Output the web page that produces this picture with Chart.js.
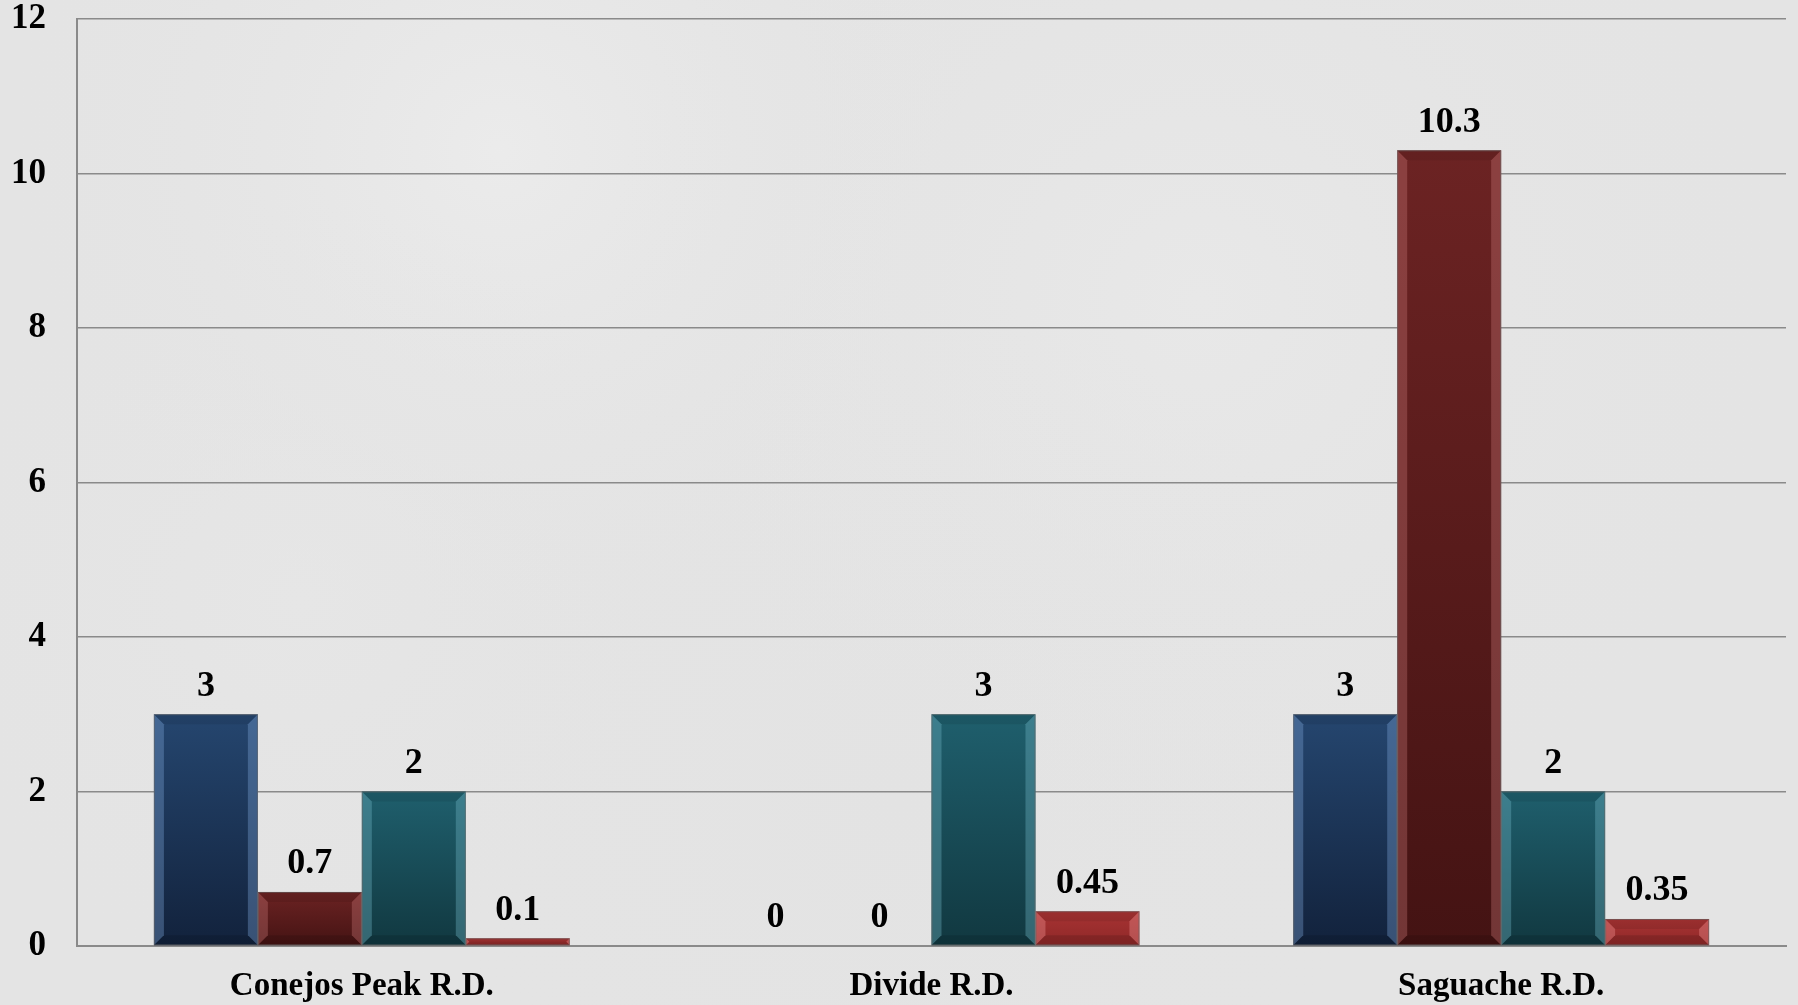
<!DOCTYPE html>
<html>
<head>
<meta charset="utf-8">
<script src="https://cdn.jsdelivr.net/npm/chart.js@4"></script>
<style>
html,body{margin:0;padding:0;background:#e4e4e4;}
#wrap{width:1798px;height:1005px;position:relative;}
</style>
</head>
<body>
<div id="wrap"><canvas id="c" width="1798" height="1005"></canvas></div>
<script>
const categories = ["Conejos Peak R.D.", "Divide R.D.", "Saguache R.D."];
const seriesA = [3, 0, 3];
const seriesB = [0.7, 0, 10.3];
const seriesC = [2, 3, 2];
const seriesD = [0.1, 0.45, 0.35];
const yTicks = [0, 2, 4, 6, 8, 10, 12];

const palettes = [
  {top:"#25466f", bottom:"#12223c", edge:"rgba(120,160,210,0.38)"},
  {top:"#6c2323", bottom:"#441313", edge:"rgba(200,120,120,0.35)"},
  {top:"#1f5f6d", bottom:"#113840", edge:"rgba(110,180,195,0.38)"},
  {top:"#a83333", bottom:"#8e2828", edge:"rgba(235,140,140,0.4)"}
];

function grad(i){
  return function(ctx){
    const chart = ctx.chart;
    const p = palettes[i];
    const ys = chart.scales && chart.scales.y;
    if (!ys || ctx.raw === undefined || !isFinite(ys.getPixelForValue(0))) return p.top;
    const top = ys.getPixelForValue(ctx.raw);
    const base = ys.getPixelForValue(0);
    if (!(base - top > 1)) return p.top;
    const g = chart.ctx.createLinearGradient(0, top, 0, base);
    g.addColorStop(0, p.top);
    g.addColorStop(1, p.bottom);
    return g;
  };
}

const bgPlugin = {
  id: "bg",
  beforeDraw(chart){
    const c = chart.ctx, w = chart.width, h = chart.height;
    c.save();
    c.fillStyle = "#e4e4e4";
    c.fillRect(0,0,w,h);
    const spots = [[500,150,500,"rgba(240,240,240,0.6)"],[1200,300,600,"rgba(236,236,236,0.5)"],[900,800,500,"rgba(226,226,226,0.5)"],[300,600,400,"rgba(232,232,232,0.5)"]];
    for (const s of spots){
      const g = c.createRadialGradient(s[0],s[1],0,s[0],s[1],s[2]);
      g.addColorStop(0,s[3]); g.addColorStop(1,"rgba(228,228,228,0)");
      c.fillStyle = g; c.fillRect(0,0,w,h);
    }
    c.restore();
  }
};

const bevelPlugin = {
  id: "bevel",
  afterDatasetsDraw(chart){
    const c = chart.ctx;
    chart.data.datasets.forEach((ds, di) => {
      const meta = chart.getDatasetMeta(di);
      meta.data.forEach((el) => {
        const l = el.x - el.width/2, r = el.x + el.width/2, t = el.y, b = el.base;
        const h = b - t;
        if (h < 1) return;
        const bv = Math.min(10, h/2, el.width/2);
        c.save();
        c.fillStyle = palettes[di].edge;
        c.beginPath(); c.moveTo(l,t); c.lineTo(l+bv,t+bv); c.lineTo(l+bv,b-bv); c.lineTo(l,b); c.closePath(); c.fill();
        c.beginPath(); c.moveTo(r,t); c.lineTo(r-bv,t+bv); c.lineTo(r-bv,b-bv); c.lineTo(r,b); c.closePath(); c.fill();
        c.fillStyle = "rgba(0,0,0,0.08)";
        c.beginPath(); c.moveTo(l,t); c.lineTo(r,t); c.lineTo(r-bv,t+bv); c.lineTo(l+bv,t+bv); c.closePath(); c.fill();
        c.fillStyle = "rgba(0,0,0,0.12)";
        c.beginPath(); c.moveTo(l,b); c.lineTo(r,b); c.lineTo(r-bv,b-bv); c.lineTo(l+bv,b-bv); c.closePath(); c.fill();
        c.strokeStyle = "rgba(100,100,100,0.6)"; c.lineWidth = 1;
        c.strokeRect(l+0.5, t+0.5, el.width-1, h-1);
        c.restore();
      });
    });
  }
};

const labelPlugin = {
  id: "vlabels",
  afterDatasetsDraw(chart){
    const c = chart.ctx;
    c.save();
    c.font = "bold 36px 'Liberation Serif', serif";
    c.fillStyle = "#000";
    c.textAlign = "center";
    c.textBaseline = "middle";
    chart.data.datasets.forEach((ds, di) => {
      const meta = chart.getDatasetMeta(di);
      meta.data.forEach((el, i) => {
        c.fillText(String(ds.data[i]), el.x, el.y - 28);
      });
    });
    c.restore();
  }
};

new Chart(document.getElementById("c"), {
  type: "bar",
  data: {
    labels: categories,
    datasets: [
      {label:"A", data: seriesA, backgroundColor: grad(0)},
      {label:"B", data: seriesB, backgroundColor: grad(1)},
      {label:"C", data: seriesC, backgroundColor: grad(2)},
      {label:"D", data: seriesD, backgroundColor: grad(3)}
    ]
  },
  options: {
    responsive: false,
    animation: false,
    devicePixelRatio: 1,
    layout: {padding: {left: 0, right: 12, top: 19, bottom: 0}},
    datasets: {bar: {barPercentage: 1, categoryPercentage: 0.73}},
    plugins: {legend: {display: false}, tooltip: {enabled: false}},
    scales: {
      x: {
        afterFit(scale){ scale.height = 59; scale.paddingLeft = 0; scale.paddingRight = 0; },
        grid: {display: false, drawTicks: false},
        border: {display: true, color: "#8a8a8a", width: 2},
        ticks: {color: "#000", padding: 21, font: {family: "'Liberation Serif', serif", size: 33, weight: "bold"}}
      },
      y: {
        min: 0, max: 12,
        afterBuildTicks(scale){ scale.ticks = yTicks.map(v => ({value: v})); },
        afterFit(scale){ scale.width = 77; scale.paddingTop = 0; scale.paddingBottom = 0; },
        grid: {color: "#8a8a8a", lineWidth: 1.5, drawTicks: false},
        border: {display: true, color: "#8a8a8a", width: 2},
        ticks: {color: "#000", padding: 31, font: {family: "'Liberation Serif', serif", size: 35, weight: "bold"}}
      }
    }
  },
  plugins: [bgPlugin, bevelPlugin, labelPlugin]
});
</script>
</body>
</html>
